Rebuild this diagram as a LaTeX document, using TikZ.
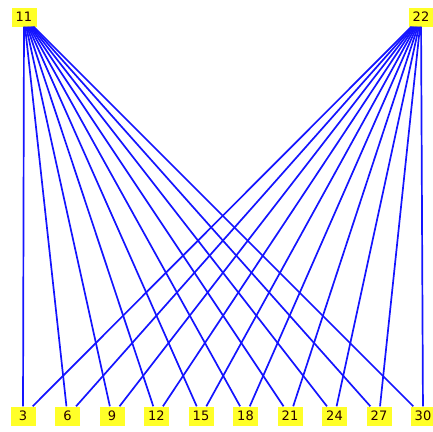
\documentclass[tikz,border=0pt]{standalone}
\usepackage{fontspec}
\setmainfont{DejaVu Sans}
\definecolor{nodefill}{RGB}{255, 255, 40}
\definecolor{edgeblue}{RGB}{20, 20, 255}
\usetikzlibrary{positioning}

\begin{document}
\begin{tikzpicture}[x=1pt, y=-1pt,
    num/.style={fill=nodefill, inner sep=1pt, minimum width=25pt,
                minimum height=19pt, text=black!85!red,
                font=\fontsize{13}{13}\selectfont},
    link/.style={edgeblue, line width=1.7pt}
]
    \useasboundingbox (0,0) rectangle (433,431);

    % Top row
    \node[num] (n11) at (24,17) {11};
    \node[num] (n22) at (421,17) {22};

    % Bottom row
    \node[num] (n3)  at (23,416) {3};
    \node[num] (n6)  at (67.5,416) {6};
    \node[num] (n9)  at (112,416) {9};
    \node[num] (n12) at (156.5,416) {12};
    \node[num] (n15) at (201,416) {15};
    \node[num] (n18) at (245.5,416) {18};
    \node[num] (n21) at (290,416) {21};
    \node[num] (n24) at (334.5,416) {24};
    \node[num] (n27) at (379,416) {27};
    \node[num] (n30) at (423,416) {30};

    % Edges
    \foreach \b in {3,6,9,12,15,18,21,24,27,30}{
        \draw[link] (n11) -- (n\b);
        \draw[link] (n22) -- (n\b);
    }
\end{tikzpicture}
\end{document}
